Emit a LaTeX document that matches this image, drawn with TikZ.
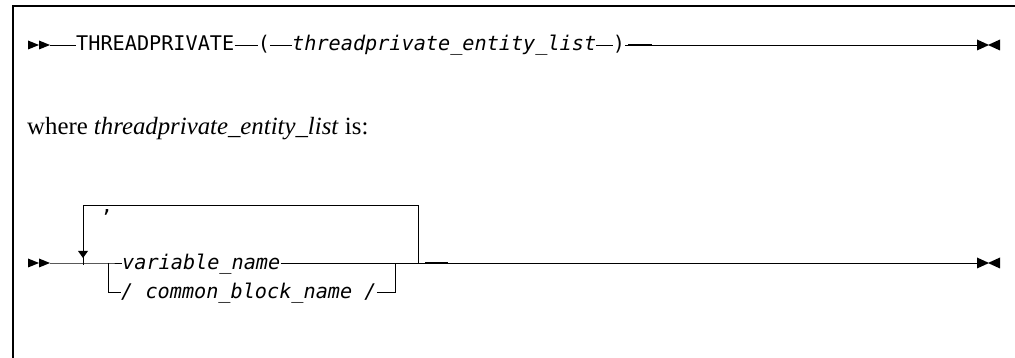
\documentclass[tikz,border=0pt]{standalone}
\usepackage{fontspec}
\newfontfamily\rrmono{DejaVu Sans Mono}
\newfontfamily\rrserif{Liberation Serif}
\begin{document}
\begin{tikzpicture}[x=1pt,y=-1pt,
  rr/.style={line width=0.9pt},
  frame/.style={line width=1.3pt},
  kw/.style={inner sep=0pt,anchor=base west,font=\rrmono\fontsize{20.2}{22}\selectfont},
  var/.style={inner sep=0pt,anchor=base west,font=\rrmono\itshape\fontsize{20.2}{22}\selectfont},
  punct/.style={inner sep=0pt,anchor=base,font=\rrmono\fontsize{20.2}{22}\selectfont},
  prose/.style={inner sep=0pt,anchor=base west,font=\rrserif\fontsize{24.8}{28}\selectfont},
  startmark/.pic={\fill (0,-4.5)--(11,0)--(0,4.5)--cycle; \fill (11,-4.5)--(22,0)--(11,4.5)--cycle;},
  endmark/.pic={\fill (0,-5.5)--(12,0)--(0,5.5)--cycle; \fill (23,-5.5)--(11,0)--(23,5.5)--cycle;},
  downmark/.pic={\fill (-5,-7)--(5,-7)--(0,0)--cycle;}
]
\useasboundingbox (0,0) rectangle (1015,358);
% frame
\draw[frame] (13,358) -- (13,6) -- (1015,6);

% ---- row 1 ----
\coordinate (s1) at (28,45);
\coordinate (s1e) at (50,45);
\pic at (s1) {startmark};
\node[kw] (tp) at (76,51) {THREADPRIVATE};
\node[punct] (lp) at (264,51) {(};
\node[var] (tel) at (292,51) {threadprivate\_entity\_list};
\node[punct] (rp) at (619,51) {)};
\coordinate (e1) at (977,45);
\pic at (e1) {endmark};
\draw[rr] (s1e) -- (tp.west |- s1e);
\draw[rr] (tp.east |- s1e) -- (lp.west |- s1e);
\draw[rr] (lp.east |- s1e) -- (tel.west |- s1e);
\draw[rr] (tel.east |- s1e) -- (rp.west |- s1e);
\draw[rr] (rp.east |- s1e) -- (e1);
\draw[line width=1.4pt] (628,45) -- (652,45);

% ---- prose ----
\node[prose] (where) at (27,135) {where \textit{threadprivate\_entity\_list} is:};

% ---- row 2 ----
\coordinate (s2) at (28,263);
\coordinate (s2e) at (50,263);
\pic at (s2) {startmark};
\coordinate (br) at (108,263);
\coordinate (lo) at (108,292);
\node[var] (vn) at (122,269.5) {variable\_name};
\node[var] (cb) at (121,298.5) {/ common\_block\_name /};
\coordinate (bj) at (395,263);
\coordinate (bjl) at (395,292);
\coordinate (jn) at (418,263);
\coordinate (lt) at (418,205);
\coordinate (ltl) at (83,205);
\coordinate (ar) at (83,258);
\node[punct] (comma) at (107,213) {,};
\coordinate (e2) at (977,263);
\pic at (e2) {endmark};
\pic at (ar) {downmark};

\draw[rr] (s2e) -- (br) -- (vn.west |- br);
\draw[rr] (br) -- (lo) -- (cb.west |- lo);
\draw[rr] (vn.east |- jn) -- (jn);
\draw[rr] (cb.east |- bjl) -- (bjl) -- (bj);
\draw[rr] (jn) -- (lt) -- (ltl) -- ([yshift=-7pt]ar);
\draw[rr] (jn) -- (e2);
\draw[line width=1.4pt] (425,263) -- (448,263);
\end{tikzpicture}
\end{document}
